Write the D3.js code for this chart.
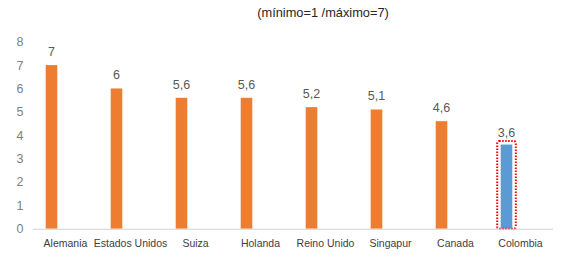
<!DOCTYPE html>
<html><head><meta charset="utf-8">
<script src="https://cdn.jsdelivr.net/npm/d3@7"></script>
<style>body{margin:0;background:#fff;}svg{display:block;font-family:"Liberation Sans",Arial,sans-serif;}</style>
</head><body>
<svg id="c" width="568" height="263"></svg>
<script>
const categories = ["Alemania","Estados Unidos","Suiza","Holanda","Reino Unido","Singapur","Canada","Colombia"];
const values = [7, 6, 5.6, 5.6, 5.2, 5.1, 4.6, 3.6];
const valueLabels = ["7","6","5,6","5,6","5,2","5,1","4,6","3,6"];
const yTicks = [0,1,2,3,4,5,6,7,8];
const title = "(mínimo=1 /máximo=7)";
const highlight = "Colombia";

const svg = d3.select("#c");
const x = d3.scaleBand().domain(categories).range([33, 553]).paddingInner(0).paddingOuter(0);
const y = d3.scaleLinear().domain([0, 8]).range([228.7, 41.7]);
const barW = 11.6;
const barOffset = x.bandwidth()/2 - 14; // bar sits left of the band centre

svg.append("text").attr("x", 323).attr("y", 17).attr("text-anchor","middle")
  .attr("font-size", 12.8).attr("fill", "#262626").text(title);

// y axis labels
const yAxis = d3.axisLeft(y).tickValues(yTicks).tickSize(0).tickPadding(0).tickFormat(d3.format("d"));
const ga = svg.append("g").attr("transform","translate(20,0)").call(yAxis);
ga.select(".domain").remove();
ga.selectAll("text").attr("font-size", 12.5).attr("fill","#808080").attr("text-anchor","middle")
  .attr("font-family","Liberation Sans, Arial, sans-serif");

// bars
svg.selectAll("rect.bar").data(categories).join("rect").attr("class","bar")
  .attr("x", (d) => x(d) + barOffset - barW/2)
  .attr("y", (d,i) => y(values[i]))
  .attr("width", barW)
  .attr("height", (d,i) => y(0) - y(values[i]))
  .attr("fill", d => d === highlight ? "#5B9BD5" : "#ED7D31");

// highlight outline
const hi = categories.indexOf(highlight);
svg.append("rect")
  .attr("x", x(highlight) + barOffset - barW/2 - 3.5)
  .attr("y", y(values[hi]) - 3.5)
  .attr("width", barW + 7)
  .attr("height", y(0) - y(values[hi]) + 3.5)
  .attr("rx", 2)
  .attr("fill","none").attr("stroke","#FF0000").attr("stroke-width",2).attr("stroke-dasharray","1.5,1.5");

// x axis line
svg.append("line").attr("x1",33).attr("x2",553).attr("y1",y(0)+0.5).attr("y2",y(0)+0.5)
  .attr("stroke","#d0d0d0").attr("stroke-width",1);

// value labels
svg.selectAll("text.val").data(categories).join("text").attr("class","val")
  .attr("x", d => x(d) + barOffset)
  .attr("y", (d,i) => y(values[i]) - (d === highlight ? 8 : 9))
  .attr("text-anchor","middle").attr("font-size",12.5).attr("fill","#595959")
  .text((d,i) => valueLabels[i]);

// category labels
const xAxis = d3.axisBottom(x).tickSize(0).tickPadding(0);
const gx = svg.append("g").attr("transform", `translate(0,${y(0)+18})`).call(xAxis);
gx.select(".domain").remove();
gx.selectAll("text").attr("font-size",10.5).attr("fill","#404040").attr("dy","0")
  .attr("font-family","Liberation Sans, Arial, sans-serif");
</script>
</body></html>
